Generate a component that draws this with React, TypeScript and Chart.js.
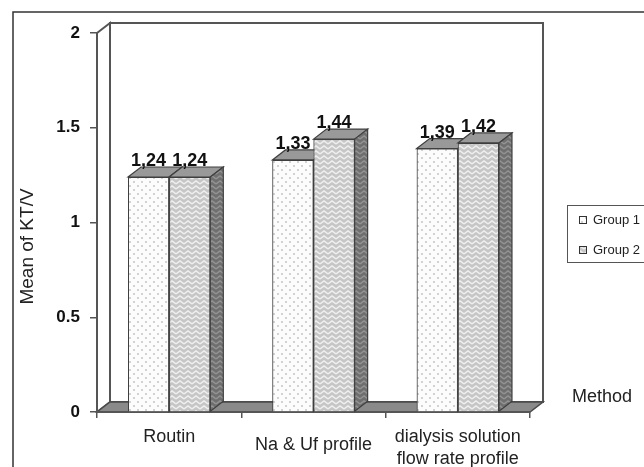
import React, { useEffect, useRef } from 'react';
import { Chart, registerables } from 'chart.js';

Chart.register(...registerables);

// ---- data ----
const categories: (string | string[])[] = ['Routin', 'Na & Uf profile', ['dialysis solution', 'flow rate profile']];
const seriesNames = ['Group 1', 'Group 2'];
const group1Values = [1.24, 1.33, 1.39];
const group2Values = [1.24, 1.44, 1.42];
const yTickLabels = ['0', '0.5', '1', '1.5', '2'];
const yAxisTitle = 'Mean of KT/V';
const xAxisTitle = 'Method';

// ---- styling ----
const DEPTH_X = 13;
const DEPTH_Y = 10;
const FONT = '"Liberation Sans", Arial, Helvetica, sans-serif';
const EDGE = '#3f3f3f';

function makeDotPattern(bg: string, dot: string): CanvasPattern | string {
  const c = document.createElement('canvas');
  c.width = 8;
  c.height = 8;
  const g = c.getContext('2d');
  if (!g) return bg;
  g.fillStyle = bg;
  g.fillRect(0, 0, 8, 8);
  g.fillStyle = dot;
  g.fillRect(1, 1, 2, 2);
  g.fillRect(5, 5, 2, 2);
  return g.createPattern(c, 'repeat') || bg;
}

function makeZigPattern(bg: string, line: string): CanvasPattern | string {
  const c = document.createElement('canvas');
  c.width = 8;
  c.height = 5;
  const g = c.getContext('2d');
  if (!g) return bg;
  g.fillStyle = bg;
  g.fillRect(0, 0, 8, 5);
  g.strokeStyle = line;
  g.lineWidth = 1.5;
  g.beginPath();
  g.moveTo(0, 4);
  g.lineTo(4, 1);
  g.lineTo(8, 4);
  g.stroke();
  return g.createPattern(c, 'repeat') || bg;
}

function poly(ctx: CanvasRenderingContext2D, pts: number[][], fill: any, stroke: string, lw: number) {
  ctx.beginPath();
  ctx.moveTo(pts[0][0], pts[0][1]);
  for (let i = 1; i < pts.length; i++) ctx.lineTo(pts[i][0], pts[i][1]);
  ctx.closePath();
  if (fill) {
    ctx.fillStyle = fill;
    ctx.fill();
  }
  if (stroke) {
    ctx.strokeStyle = stroke;
    ctx.lineWidth = lw;
    ctx.stroke();
  }
}

export default function App() {
  const ref = useRef<HTMLCanvasElement | null>(null);

  useEffect(() => {
    const canvas = ref.current;
    if (!canvas) return;

    const front1 = makeDotPattern('#fcfcfc', '#d2d2d2');
    const front2 = makeZigPattern('#c6c6c6', '#efefef');
    const side2 = makeZigPattern('#6f6f6f', '#939393');
    const side1 = makeDotPattern('#9a9a9a', '#7a7a7a');
    const sideFills = [side1, side2];
    const topFill = '#999999';

    const threeD = {
      id: 'threeD',
      beforeDraw(chart: any) {
        const { ctx, chartArea: a } = chart;
        ctx.save();
        // outer frame of the figure
        ctx.strokeStyle = '#333';
        ctx.lineWidth = 1.5;
        ctx.beginPath();
        ctx.moveTo(13, 467);
        ctx.lineTo(13, 12);
        ctx.lineTo(644, 12);
        ctx.stroke();

        const bx0 = a.left + DEPTH_X;
        const bx1 = a.right + DEPTH_X;
        const by0 = a.top - DEPTH_Y;
        const by1 = a.bottom - DEPTH_Y;
        // back wall
        poly(ctx, [[bx0, by0], [bx1, by0], [bx1, by1], [bx0, by1]], '#ffffff', '#555', 2);
        // left wall
        poly(ctx, [[a.left, a.top], [bx0, by0], [bx0, by1], [a.left, a.bottom]], '#ffffff', '#555', 2);
        // floor
        poly(ctx, [[a.left, a.bottom], [bx0, by1], [bx1, by1], [a.right, a.bottom]], '#8a8a8a', '#4a4a4a', 1.5);
        ctx.restore();
      },
      afterDatasetsDraw(chart: any) {
        const { ctx } = chart;
        ctx.save();
        chart.data.datasets.forEach((ds: any, di: number) => {
          const meta = chart.getDatasetMeta(di);
          meta.data.forEach((el: any) => {
            el.draw(ctx);
            const p = el.getProps(['x', 'y', 'base', 'width'], true);
            const l = p.x - p.width / 2;
            const r = p.x + p.width / 2;
            // top face
            poly(ctx, [[l, p.y], [l + DEPTH_X, p.y - DEPTH_Y], [r + DEPTH_X, p.y - DEPTH_Y], [r, p.y]], topFill, EDGE, 1.2);
            // side face
            poly(ctx, [[r, p.y], [r + DEPTH_X, p.y - DEPTH_Y], [r + DEPTH_X, p.base - DEPTH_Y], [r, p.base]], sideFills[di], EDGE, 1.2);
          });
        });
        // value labels
        ctx.fillStyle = '#111';
        ctx.font = `bold 18px ${FONT}`;
        ctx.textAlign = 'center';
        ctx.textBaseline = 'alphabetic';
        chart.data.datasets.forEach((ds: any, di: number) => {
          const meta = chart.getDatasetMeta(di);
          meta.data.forEach((el: any, i: number) => {
            const p = el.getProps(['x', 'y'], true);
            const txt = Number(ds.data[i]).toFixed(2).replace('.', ',');
            ctx.fillText(txt, p.x, p.y - DEPTH_Y - 1);
          });
        });
        ctx.restore();
      },
      afterDraw(chart: any) {
        const { ctx, chartArea: a } = chart;
        ctx.save();
        // y axis title
        ctx.fillStyle = '#222';
        ctx.font = `19px ${FONT}`;
        ctx.textAlign = 'center';
        ctx.textBaseline = 'middle';
        ctx.translate(28, (a.top + a.bottom) / 2 + 24);
        ctx.rotate(-Math.PI / 2);
        ctx.fillText(yAxisTitle, 0, 0);
        ctx.restore();

        ctx.save();
        // x axis title at the right
        ctx.fillStyle = '#222';
        ctx.font = `18px ${FONT}`;
        ctx.textAlign = 'left';
        ctx.textBaseline = 'middle';
        ctx.fillText(xAxisTitle, 572, a.bottom - 15);

        // legend box
        const lx = 567;
        const ly = 205;
        ctx.strokeStyle = '#555';
        ctx.lineWidth = 1;
        ctx.strokeRect(lx + 0.5, ly + 0.5, 90, 57);
        ctx.font = `13px ${FONT}`;
        ctx.textBaseline = 'middle';
        chart.data.datasets.forEach((ds: any, di: number) => {
          const cy = ly + 15 + di * 30;
          ctx.fillStyle = ds.backgroundColor;
          ctx.fillRect(lx + 12, cy - 4, 8, 8);
          ctx.strokeStyle = '#333';
          ctx.strokeRect(lx + 12.5, cy - 3.5, 7, 7);
          ctx.fillStyle = '#222';
          ctx.fillText(ds.label, lx + 26, cy);
        });
        ctx.restore();
      },
    };

    const chart = new Chart(canvas, {
      type: 'bar',
      data: {
        labels: categories,
        datasets: [
          {
            label: seriesNames[0],
            data: group1Values,
            backgroundColor: front1 as any,
            borderColor: EDGE,
            borderWidth: 1,
            barPercentage: 1,
            categoryPercentage: 0.57,
          },
          {
            label: seriesNames[1],
            data: group2Values,
            backgroundColor: front2 as any,
            borderColor: EDGE,
            borderWidth: 1,
            barPercentage: 1,
            categoryPercentage: 0.57,
          },
        ],
      },
      options: {
        responsive: false,
        maintainAspectRatio: false,
        animation: false,
        layout: { padding: { left: 0, top: 33, right: 114, bottom: 0 } },
        plugins: {
          legend: { display: false },
          tooltip: { enabled: false },
          title: { display: false },
        },
        scales: {
          x: {
            grid: { display: true, offset: true, drawOnChartArea: false, tickLength: 6, color: '#555', lineWidth: 1.5 },
            border: { display: true, color: '#555', width: 2 },
            ticks: {
              color: '#222',
              padding: 9,
              maxRotation: 0,
              autoSkip: false,
              font: (c: any) => ({ family: FONT, size: 18, lineHeight: c.index === 1 ? 2.0 : 1.17 }),
            },
            afterFit: (s: any) => {
              s.height = 55;
            },
          },
          y: {
            min: 0,
            max: 2,
            grid: { display: true, drawOnChartArea: false, tickLength: 7, color: '#555', lineWidth: 1.5 },
            border: { display: true, color: '#555', width: 2 },
            ticks: {
              stepSize: 0.5,
              padding: 10,
              color: '#111',
              font: { family: FONT, size: 17, weight: 'bold' },
              callback: (_v: any, i: number) => yTickLabels[i],
            },
            afterFit: (s: any) => {
              s.width = 97;
            },
          },
        },
      },
      plugins: [threeD],
    });

    return () => chart.destroy();
  }, []);

  return (
    <div style={{ position: 'absolute', left: 0, top: 0, width: 644, height: 467, background: '#fff' }}>
      <canvas ref={ref} width={644} height={467} style={{ display: 'block', width: 644, height: 467 }} />
    </div>
  );
}
